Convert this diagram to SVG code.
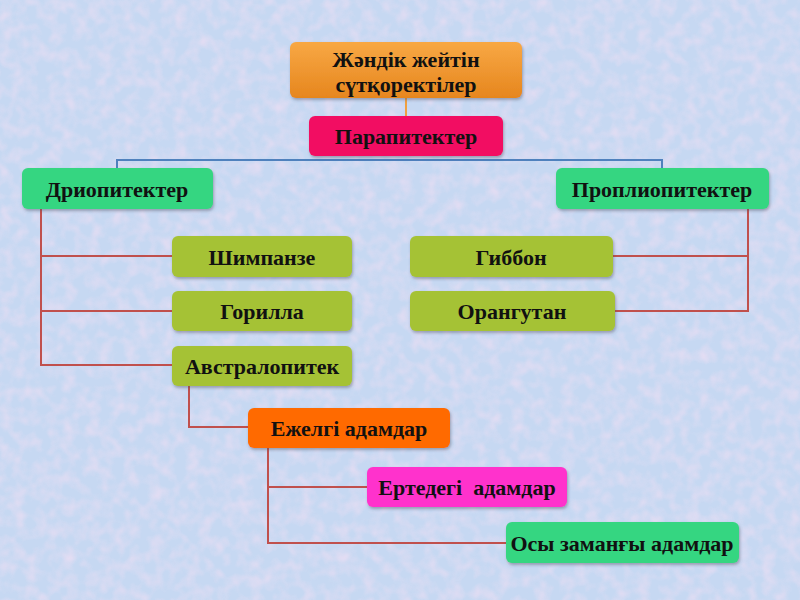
<svg xmlns="http://www.w3.org/2000/svg" width="800" height="600" viewBox="0 0 800 600">
<defs>
<style>
.n{stroke:none;filter:url(#sh)}
.t{font-family:"Liberation Serif","Times New Roman",serif;font-weight:bold;font-size:22px;fill:#111;text-anchor:middle;dominant-baseline:central}
.r{fill:none;stroke:#c0504d;stroke-width:2}
.b{fill:none;stroke:#4f81bd;stroke-width:2}
.o{fill:none;stroke:#f0a040;stroke-width:2}
</style>
<linearGradient id="og" x1="0" y1="0" x2="0" y2="1"><stop offset="0" stop-color="#f8a844"/><stop offset="1" stop-color="#e6861e"/></linearGradient>
<filter id="sh" x="-10%" y="-20%" width="125%" height="150%"><feDropShadow dx="1" dy="2" stdDeviation="1.5" flood-color="#556" flood-opacity="0.45"/></filter>
<filter id="tex" x="0" y="0" width="100%" height="100%"><feTurbulence type="fractalNoise" baseFrequency="0.08" numOctaves="2" seed="3"/><feColorMatrix type="matrix" values="0 0 0 0 0.88  0 0 0 0 0.74  0 0 0 0 0.9  0 0 0 1.6 -0.6"/></filter>
</defs>
<rect width="800" height="600" fill="#c6d8f2"/>
<rect width="800" height="600" filter="url(#tex)" opacity="0.75"/>
<g id="connectors">
<path class="o" d="M406 98V116"/>
<path class="b" d="M117 168V160H662V168"/>
<path class="r" d="M41 209V365H172M41 256H172M41 311H172"/>
<path class="r" d="M748 209V311H615M748 256H613"/>
<path class="r" d="M189 386V427H248"/>
<path class="r" d="M268 448V543H506M268 487H367"/>
</g>
<g id="n-root"><rect class="n" x="290" y="42" width="232" height="56" rx="6" fill="url(#og)"/><text class="t" x="406" y="59">Жәндік жейтін</text><text class="t" x="406" y="84">сүтқоректілер</text></g>
<g id="n-para"><rect class="n" x="309" y="116" width="194" height="40" rx="6" fill="#f20c62"/><text class="t" x="406" y="136">Парапитектер</text></g>
<g id="n-drio"><rect class="n" x="22" y="168" width="191" height="41" rx="6" fill="#34d681"/><text class="t" x="117" y="189">Дриопитектер</text></g>
<g id="n-propl"><rect class="n" x="556" y="168" width="213" height="41" rx="6" fill="#34d681"/><text class="t" x="662" y="189">Проплиопитектер</text></g>
<g id="n-shimp"><rect class="n" x="172" y="236" width="180" height="41" rx="6" fill="#a5c234"/><text class="t" x="262" y="257">Шимпанзе</text></g>
<g id="n-gor"><rect class="n" x="172" y="291" width="180" height="40" rx="6" fill="#a5c234"/><text class="t" x="262" y="311">Горилла</text></g>
<g id="n-avs"><rect class="n" x="172" y="346" width="180" height="40" rx="6" fill="#a5c234"/><text class="t" x="262" y="366">Австралопитек</text></g>
<g id="n-gib"><rect class="n" x="410" y="236" width="203" height="41" rx="6" fill="#a5c234"/><text class="t" x="511" y="257">Гиббон</text></g>
<g id="n-orang"><rect class="n" x="410" y="291" width="205" height="40" rx="6" fill="#a5c234"/><text class="t" x="512" y="311">Орангутан</text></g>
<g id="n-ezh"><rect class="n" x="248" y="408" width="202" height="40" rx="6" fill="#ff6a00"/><text class="t" x="349" y="428">Ежелгі адамдар</text></g>
<g id="n-ert"><rect class="n" x="367" y="467" width="200" height="40" rx="6" fill="#ff33cc"/><text class="t" x="467" y="487" xml:space="preserve">Ертедегі  адамдар</text></g>
<g id="n-osy"><rect class="n" x="506" y="522" width="233" height="41" rx="6" fill="#34d681"/><text class="t" x="622" y="543">Осы заманғы адамдар</text></g>
</svg>
